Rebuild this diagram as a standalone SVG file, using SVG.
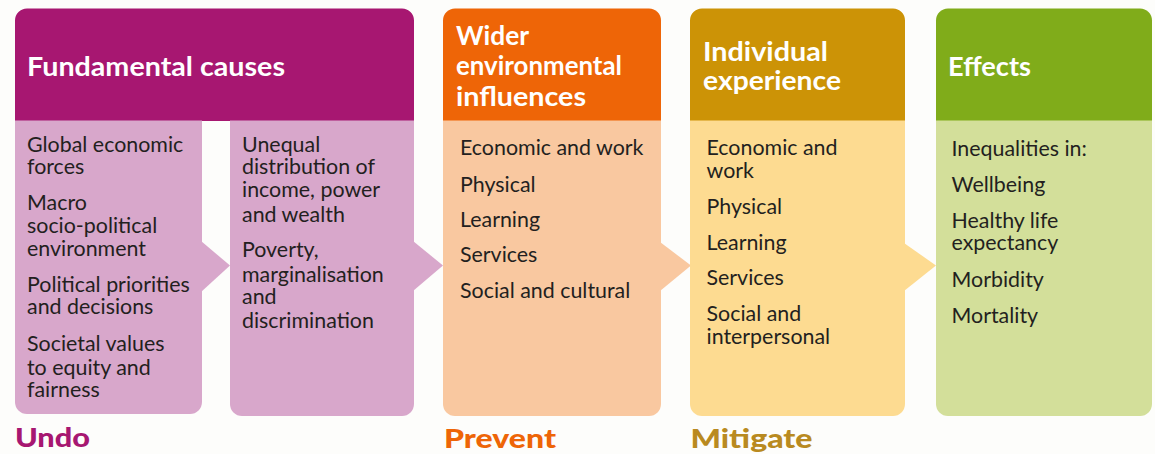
<svg xmlns="http://www.w3.org/2000/svg" width="1155" height="454" viewBox="0 0 1155 454">
<style>
  .hd { font-family: Lato, "Liberation Sans", sans-serif; font-weight: bold; font-size: 27.5px; fill: #ffffff; }
  .tx { font-family: Lato, "Liberation Sans", sans-serif; font-weight: 400; font-size: 21.4px; fill: #231f20; }
  .ft { font-family: Lato, "Liberation Sans", sans-serif; font-weight: 900; font-size: 26px; }
</style>
<rect x="0" y="0" width="1155" height="454" fill="#fdfdfb"/>

<g id="connectors">
  <polygon points="201,241 230,265.5 201,292" fill="#d8a7cb"/>
  <polygon points="413,241 443,265.5 413,291" fill="#d8a7cb"/>
  <polygon points="660,242 691,265.5 660,291" fill="#f9c8a0"/>
  <polygon points="904,243 936,265.5 904,291" fill="#fddb91"/>
</g>

<g id="fundamental-causes">
  <path d="M15,121 V20.5 A12,12 0 0 1 27,8.5 H402 A12,12 0 0 1 414,20.5 V121 Z" fill="#a71771"/>
  <text class="hd" x="27" y="76" textLength="258" lengthAdjust="spacingAndGlyphs">Fundamental causes</text>
  <path d="M15,120.5 H202 V402 A12,12 0 0 1 190,414 H27 A12,12 0 0 1 15,402 Z" fill="#d8a7cb"/>
  <path d="M230,120.5 H414 V404 A12,12 0 0 1 402,416 H242 A12,12 0 0 1 230,404 Z" fill="#d8a7cb"/>
  <text class="tx"><tspan x="27" y="151.5">Global economic</tspan><tspan x="27" y="173.5">forces</tspan><tspan x="27" y="209.5">Macro</tspan><tspan x="27" y="233">socio-political</tspan><tspan x="27" y="256">environment</tspan><tspan x="27" y="291.5">Political priorities</tspan><tspan x="27" y="314">and decisions</tspan><tspan x="27" y="351">Societal values</tspan><tspan x="27" y="375">to equity and</tspan><tspan x="27" y="397">fairness</tspan></text>
  <text class="tx"><tspan x="242" y="151.5">Unequal</tspan><tspan x="242" y="174">distribution of</tspan><tspan x="242" y="197">income, power</tspan><tspan x="242" y="221.5">and wealth</tspan><tspan x="242" y="257">Poverty,</tspan><tspan x="242" y="281.5">marginalisation</tspan><tspan x="242" y="303.5">and</tspan><tspan x="242" y="328">discrimination</tspan></text>
</g>

<g id="wider-environmental-influences">
  <path d="M443,121 V20.5 A12,12 0 0 1 455,8.5 H649 A12,12 0 0 1 661,20.5 V121 Z" fill="#ee6507"/>
  <text class="hd" x="456" y="44.5" textLength="73" lengthAdjust="spacingAndGlyphs">Wider</text>
  <text class="hd" x="456" y="75" textLength="166" lengthAdjust="spacingAndGlyphs">environmental</text>
  <text class="hd" x="456" y="105.5" textLength="130" lengthAdjust="spacingAndGlyphs">influences</text>
  <path d="M443,120.5 H661 V404 A12,12 0 0 1 649,416 H455 A12,12 0 0 1 443,404 Z" fill="#f9c8a0"/>
  <text class="tx"><tspan x="460" y="155">Economic and work</tspan><tspan x="460" y="191.5">Physical</tspan><tspan x="460" y="227">Learning</tspan><tspan x="460" y="262">Services</tspan><tspan x="460" y="298">Social and cultural</tspan></text>
</g>

<g id="individual-experience">
  <path d="M690,121 V20.5 A12,12 0 0 1 702,8.5 H893 A12,12 0 0 1 905,20.5 V121 Z" fill="#cc9306"/>
  <text class="hd" x="703" y="60.5" textLength="125" lengthAdjust="spacingAndGlyphs">Individual</text>
  <text class="hd" x="703" y="89.5" textLength="138" lengthAdjust="spacingAndGlyphs">experience</text>
  <path d="M690,120.5 H905 V404 A12,12 0 0 1 893,416 H702 A12,12 0 0 1 690,404 Z" fill="#fddb91"/>
  <text class="tx"><tspan x="706.5" y="155">Economic and</tspan><tspan x="706.5" y="177.5">work</tspan><tspan x="706.5" y="213.5">Physical</tspan><tspan x="706.5" y="249.5">Learning</tspan><tspan x="706.5" y="285">Services</tspan><tspan x="706.5" y="321">Social and</tspan><tspan x="706.5" y="344">interpersonal</tspan></text>
</g>

<g id="effects">
  <path d="M936,121 V20.5 A12,12 0 0 1 948,8.5 H1140 A12,12 0 0 1 1152,20.5 V121 Z" fill="#80ac1a"/>
  <text class="hd" x="948" y="76" textLength="83" lengthAdjust="spacingAndGlyphs">Effects</text>
  <path d="M936,120.5 H1152 V404 A12,12 0 0 1 1140,416 H948 A12,12 0 0 1 936,404 Z" fill="#d3df9a"/>
  <text class="tx"><tspan x="951.5" y="156">Inequalities in:</tspan><tspan x="951.5" y="191.5">Wellbeing</tspan><tspan x="951.5" y="227.5">Healthy life</tspan><tspan x="951.5" y="250">expectancy</tspan><tspan x="951.5" y="287">Morbidity</tspan><tspan x="951.5" y="322.5">Mortality</tspan></text>
</g>

<g id="labels">
  <text class="ft" x="15" y="447" fill="#a71771" textLength="75" lengthAdjust="spacingAndGlyphs">Undo</text>
  <text class="ft" x="444" y="447.5" fill="#ee6507" textLength="112" lengthAdjust="spacingAndGlyphs">Prevent</text>
  <text class="ft" x="690.5" y="447.5" fill="#b98a20" textLength="122" lengthAdjust="spacingAndGlyphs">Mitigate</text>
</g>
</svg>
